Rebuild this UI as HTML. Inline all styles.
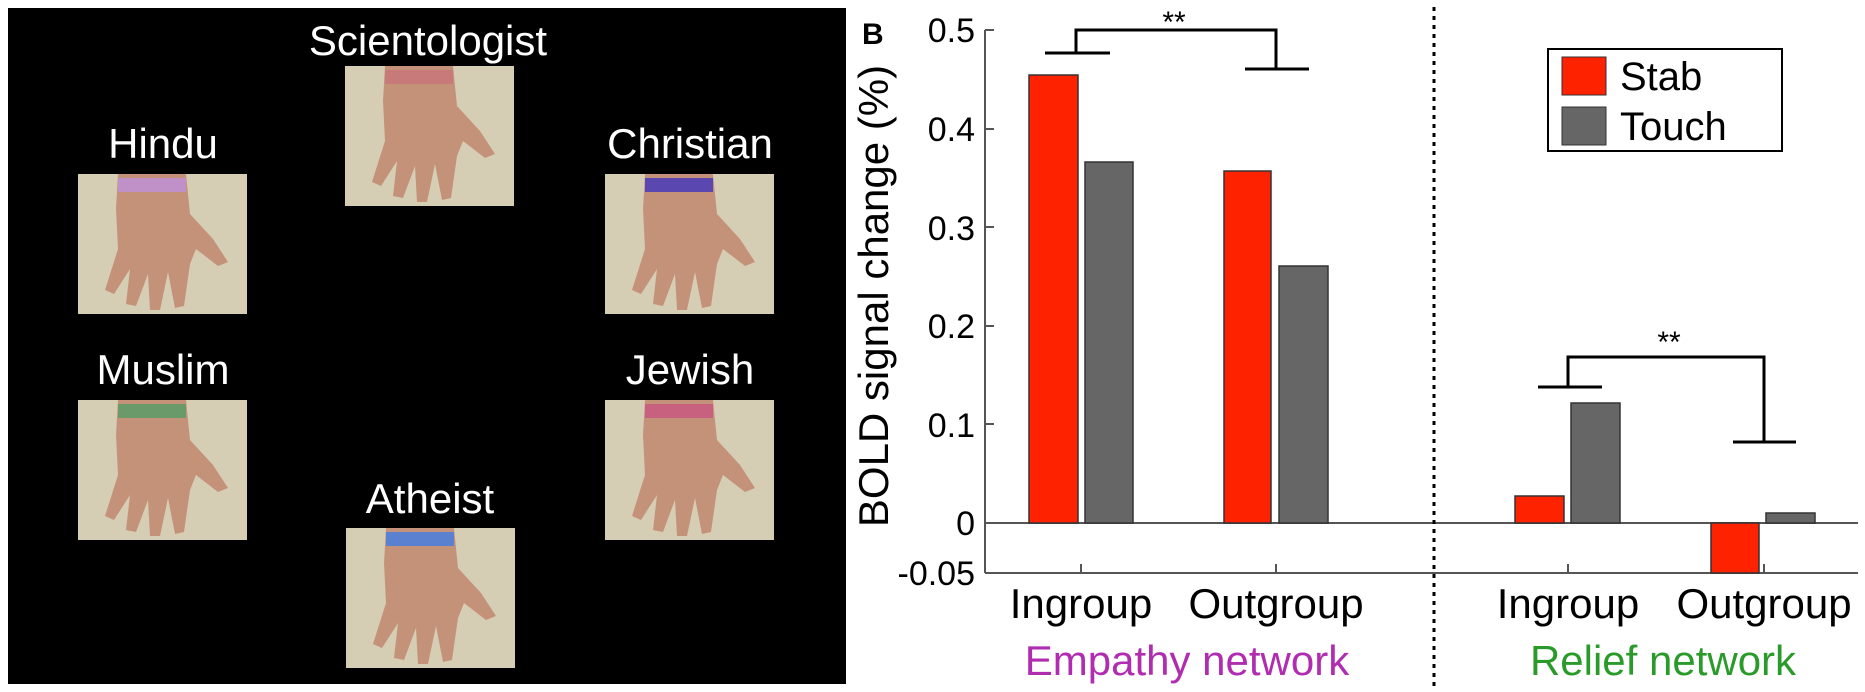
<!DOCTYPE html>
<html><head><meta charset="utf-8"><style>
html,body{margin:0;padding:0;background:#fff;}
svg{display:block;}
text{font-family:"Liberation Sans",sans-serif;}
</style></head><body>
<svg width="1865" height="692" viewBox="0 0 1865 692">
<rect x="8" y="8" width="838" height="676" fill="#000"/>
<defs>
<g id="hand">
<rect x="0" y="0" width="169" height="140" fill="#d6cdb5"/>
<path d="M40,0 L108,0 L112,40 L135,65 L150,88 L140,92 L118,75 L112,90 L106,132 L97,134 L90,98 L82,136 L72,136 L70,100 L58,132 L48,130 L52,95 L36,120 L27,116 L40,75 L38,35 Z" fill="#c49278"/>
</g>
</defs>
<g fill="#fff" font-size="42" text-anchor="middle">
<text x="428" y="55">Scientologist</text>
<text x="163" y="158">Hindu</text>
<text x="690" y="158">Christian</text>
<text x="163" y="384">Muslim</text>
<text x="690" y="384">Jewish</text>
<text x="430" y="513">Atheist</text>
</g>
<use href="#hand" x="345" y="66"/><rect x="385" y="70" width="68" height="14" fill="#c87a7a"/>
<use href="#hand" x="78" y="174"/><rect x="118" y="178" width="68" height="14" fill="#c090c8"/>
<use href="#hand" x="605" y="174"/><rect x="645" y="178" width="68" height="14" fill="#5a48b0"/>
<use href="#hand" x="78" y="400"/><rect x="118" y="404" width="68" height="14" fill="#6a9a6a"/>
<use href="#hand" x="605" y="400"/><rect x="645" y="404" width="68" height="14" fill="#c86080"/>
<use href="#hand" x="346" y="528"/><rect x="386" y="532" width="68" height="14" fill="#5a80d0"/>

<text x="862" y="44" font-size="30" font-weight="bold">B</text>
<text transform="translate(888,296) rotate(-90)" font-size="42" text-anchor="middle">BOLD signal change (%)</text>
<g font-size="34" text-anchor="end">
<text x="975" y="42">0.5</text><text x="975" y="141">0.4</text><text x="975" y="240">0.3</text>
<text x="975" y="338">0.2</text><text x="975" y="437">0.1</text><text x="975" y="535">0</text><text x="975" y="585">-0.05</text>
</g>
<g stroke="#555" stroke-width="2">
<line x1="985" y1="30" x2="985" y2="573"/>
<line x1="985" y1="30" x2="994" y2="30"/><line x1="985" y1="129" x2="994" y2="129"/><line x1="985" y1="227" x2="994" y2="227"/><line x1="985" y1="326" x2="994" y2="326"/><line x1="985" y1="424" x2="994" y2="424"/><line x1="985" y1="523" x2="994" y2="523"/>
<line x1="985" y1="523" x2="1858" y2="523"/>
<line x1="985" y1="573" x2="1858" y2="573"/>
<line x1="1081" y1="573" x2="1081" y2="564"/><line x1="1276" y1="573" x2="1276" y2="564"/><line x1="1568" y1="573" x2="1568" y2="564"/><line x1="1764" y1="573" x2="1764" y2="564"/>
</g>
<g stroke="#333" stroke-width="1.5">
<rect x="1029" y="75" width="49" height="448" fill="#ff2200"/>
<rect x="1085" y="162" width="48" height="361" fill="#666"/>
<rect x="1224" y="171" width="47" height="352" fill="#ff2200"/>
<rect x="1279" y="266" width="49" height="257" fill="#666"/>
<rect x="1515" y="496" width="49" height="27" fill="#ff2200"/>
<rect x="1571" y="403" width="49" height="120" fill="#666"/>
<rect x="1711" y="523" width="48" height="50" fill="#ff2200"/>
<rect x="1766" y="513" width="49" height="10" fill="#666"/>
</g>
<g stroke="#000" stroke-width="3" fill="none">
<polyline points="1076,53 1076,30 1276,30 1276,69"/>
<line x1="1045" y1="53" x2="1110" y2="53"/><line x1="1245" y1="69" x2="1309" y2="69"/>
<polyline points="1568,387 1568,357 1764,357 1764,442"/>
<line x1="1538" y1="387" x2="1602" y2="387"/><line x1="1733" y1="442" x2="1796" y2="442"/>
</g>
<text x="1174" y="32" font-size="30" text-anchor="middle">**</text>
<text x="1669" y="352" font-size="30" text-anchor="middle">**</text>
<line x1="1434" y1="7" x2="1434" y2="688" stroke="#000" stroke-width="3" stroke-dasharray="4,5"/>
<rect x="1548" y="49" width="234" height="102" fill="#fff" stroke="#000" stroke-width="2"/>
<rect x="1562" y="57" width="44" height="38" fill="#ff2200" stroke="#333"/>
<rect x="1562" y="107" width="44" height="38" fill="#666" stroke="#333"/>
<text x="1620" y="90" font-size="40">Stab</text>
<text x="1620" y="140" font-size="40">Touch</text>
<g font-size="42" text-anchor="middle">
<text x="1081" y="618">Ingroup</text><text x="1276" y="618">Outgroup</text>
<text x="1568" y="618">Ingroup</text><text x="1764" y="618">Outgroup</text>
<text x="1187" y="675" fill="#b02cb0">Empathy network</text>
<text x="1663" y="675" fill="#2a9a2a">Relief network</text>
</g>
</svg>
</body></html>
